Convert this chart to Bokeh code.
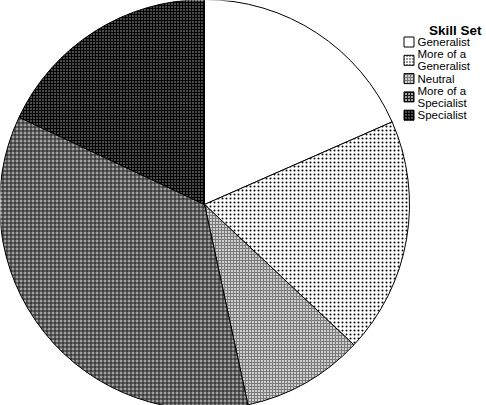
import math
from bokeh.plotting import figure
from bokeh.models import Range1d, Label, ColumnDataSource
from bokeh.core.properties import value
from bokeh.embed import file_html
from bokeh.resources import INLINE

legend_title = "Skill Set"
categories = ["Generalist", "More of a\nGeneralist", "Neutral", "More of a\nSpecialist", "Specialist"]
shares = [18.4, 18.6, 9.6, 35.4, 18.0]

fills = ["#ffffff", "#ffffff", "#cfcfcf", "#a0a0a0", "#4a4a4a"]
hatches = [None, "dot", "cross", "cross", "cross"]
hatch_colors = ["black", "black", "#7a7a7a", "#1a1a1a", "black"]
hatch_scales = [12, 4, 3, 4, 3]
hatch_weights = [1, 0.6, 1, 1, 1]

W, H = 486, 405
p = figure(width=W, height=H, output_backend="svg", toolbar_location=None,
           x_range=Range1d(0, W), y_range=Range1d(0, H), min_border=0,
           match_aspect=False)
p.axis.visible = False
p.grid.visible = False
p.outline_line_color = None
p.background_fill_color = "white"

# pie
cx, cy, r = 204, H - 204, 205
total = sum(shares)
angle = math.pi / 2
# legend layout (screen pixels from top)
line_y0, line_pitch = 41.5, 12.2
box_x, box_size, text_x = 408.5, 10, 417
line_idx = 0
for i, (cat, s) in enumerate(zip(categories, shares)):
    sweep = s / total * 2 * math.pi
    start, end = angle, angle - sweep
    kw = dict(fill_color=fills[i], line_color="black", line_width=1)
    if hatches[i]:
        kw.update(hatch_pattern=hatches[i], hatch_color=hatch_colors[i],
                  hatch_scale=hatch_scales[i], hatch_weight=hatch_weights[i])
    p.wedge(x=[cx], y=[cy], radius=r, start_angle=[end], end_angle=[start],
            direction="anticlock", **kw)
    angle = end

    # legend entry
    lines = cat.split("\n")
    ys = [H - (line_y0 + line_pitch * (line_idx + k)) for k in range(len(lines))]
    line_idx += len(lines)
    box_kw = dict(kw)
    if hatches[i]:
        box_kw["hatch_scale"] = max(3, hatch_scales[i] - 1)
    p.rect(x=[box_x], y=[sum(ys) / len(ys)], width=box_size, height=box_size, **box_kw)
    p.text(x=[text_x] * len(lines), y=ys, text=lines, text_align="left",
           text_baseline="middle", text_font=value("Liberation Sans"),
           text_font_size="11.5px", text_color="black")

p.add_layout(Label(x=481, y=H - 29.5, text=legend_title, text_align="right",
                   text_baseline="alphabetic", text_font="Liberation Sans",
                   text_font_style="bold", text_font_size="13.5px", text_color="black"))

open("out.html", "w").write(file_html(p, INLINE))
